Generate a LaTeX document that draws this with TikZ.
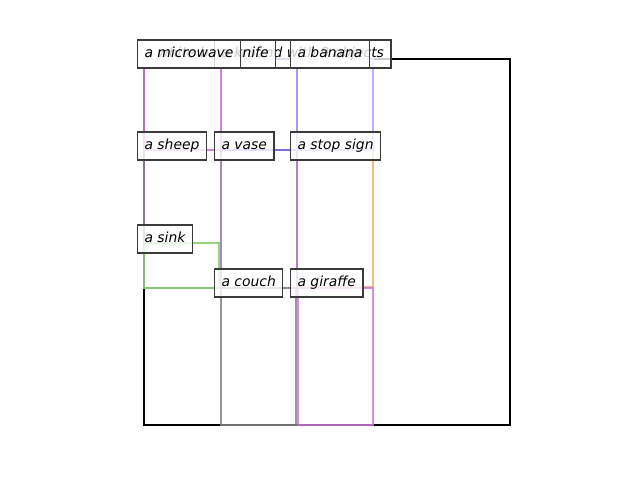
\documentclass[tikz,border=0pt]{standalone}
\usepackage{fontspec}
\setmainfont{DejaVu Sans}
\usepackage{xcolor}
\usetikzlibrary{calc}
\definecolor{frame}{HTML}{000000}
\definecolor{micro}{HTML}{E07FE0}
\definecolor{knife}{HTML}{6C6CDA}
\definecolor{banana}{HTML}{B39DFF}
\definecolor{sheep}{HTML}{A08CB4}
\definecolor{vase}{HTML}{B56ED8}
\definecolor{stop}{HTML}{F0B070}
\definecolor{sink}{HTML}{84CC6C}
\definecolor{couch}{HTML}{8A8484}
\definecolor{giraffe}{HTML}{CC77DD}
\definecolor{tagline}{HTML}{3A3A3A}
\tikzset{
  box/.style={line width=1.7pt, line join=miter, draw opacity=0.85},
  tag/.style={draw=tagline, fill=white, fill opacity=0.8, text opacity=1,
    line width=0.8pt, font=\itshape, anchor=west, inner xsep=5.04pt,
    inner ysep=0pt, minimum height=20.16pt, text height=7.4pt, text depth=2.2pt}
}
\begin{document}
\begin{tikzpicture}[x=0.72pt, y=-0.72pt]
  \useasboundingbox (0,0) rectangle (640,480);
  % boxes
  \draw[box, draw=frame, line width=2pt, draw opacity=1] (144,59) rectangle (510,425);
  \draw[box, draw=stop] (297,150) rectangle (373,287);
  \draw[box, draw=vase] (221,150) rectangle (297,288);
  \draw[box, draw=sheep] (144,150) rectangle (221,288);
  \draw[box, draw=sink] (144,243) rectangle (219,288);
  \draw[box, draw=couch] (221,288) rectangle (296,425);
  \draw[box, draw=giraffe] (298,288) rectangle (373,425);
  \draw[box, draw=knife] (221,59) rectangle (297,150);
  \draw[box, draw=banana] (297,59) rectangle (373,150);
  \draw[box, draw=micro] (144,59) rectangle (221,150);
  % labels
  \node[tag] (scene) at (137,54) {a white background with 9 objects};
  \node[tag] (lsheep) at (137,146) {a sheep};
  \node[tag] (lvase) at (214,146) {a vase};
  \node[tag] (lstop) at (290,146) {a stop sign};
  \node[tag] (lsink) at (137,239) {a sink};
  \node[tag] (lcouch) at (214,283) {a couch};
  \node[tag] (lgiraffe) at (290,283) {a giraffe};
  \node[tag] (lknife) at (214,54) {a knife};
  \node[tag] (lmicro) at (137,54) {a microwave};
  \node[tag] (lbanana) at (290,54) {a banana};
\end{tikzpicture}
\end{document}
